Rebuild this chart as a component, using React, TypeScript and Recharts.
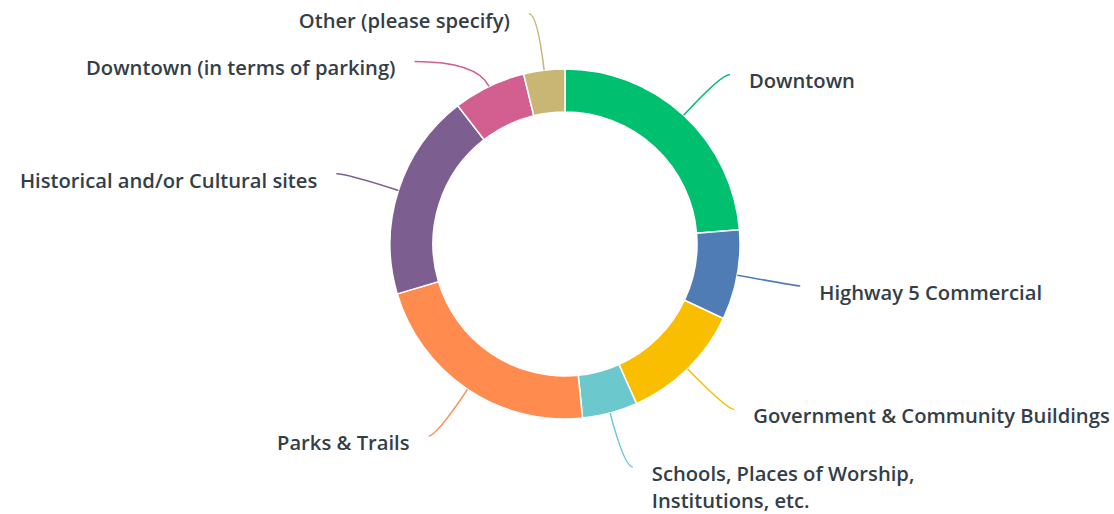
import { PieChart, Pie, Cell } from "recharts";

const categories = [
  "Downtown",
  "Highway 5 Commercial",
  "Government & Community Buildings",
  "Schools, Places of Worship, Institutions, etc.",
  "Parks & Trails",
  "Historical and/or Cultural sites",
  "Downtown (in terms of parking)",
  "Other (please specify)",
];
const shares = [23.7, 8.3, 11.3, 5.1, 22.0, 19.1, 6.7, 3.8];
const colors = [
  "#00bf6f",
  "#507cb6",
  "#f9be00",
  "#6bc8cd",
  "#ff8b4f",
  "#7d5e90",
  "#d25f90",
  "#c9b675",
];
const labelLines = [
  ["Downtown"],
  ["Highway 5 Commercial"],
  ["Government & Community Buildings"],
  ["Schools, Places of Worship,", "Institutions, etc."],
  ["Parks & Trails"],
  ["Historical and/or Cultural sites"],
  ["Downtown (in terms of parking)"],
  ["Other (please specify)"],
];

// leader-line end nudges, px
const nudges = [
  [5, 4],
  [3, 0],
  [4, -3],
  [7, -5],
  [-5, -4],
  [-4, 2],
  [-48, 30],
  [-8, 4],
];

const data = categories.map((name, i) => ({ name, value: shares[i] }));

const RADIAN = Math.PI / 180;

function renderLabel(props: any) {
  const { cx, cy, midAngle, outerRadius, index } = props;
  const cos = Math.cos(-midAngle * RADIAN);
  const sin = Math.sin(-midAngle * RADIAN);
  const sx = cx + outerRadius * cos;
  const sy = cy + outerRadius * sin;
  const [nx, ny] = nudges[index];
  const ex = cx + (outerRadius + 61) * cos + nx;
  const ey = cy + (outerRadius + 61) * sin + ny;
  let t = Math.abs(sin) > 0.01 ? (ey - cy) / sin : outerRadius + 40;
  if (t < outerRadius + 5) t = outerRadius + 5;
  const qx = cx + t * cos;
  const right = ex > cx;
  const lines = labelLines[index];
  const tx = right ? ex + 19 : ex - 19;
  return (
    <g>
      <path
        d={`M${sx},${sy} Q${qx},${ey} ${ex},${ey}`}
        stroke={colors[index]}
        strokeWidth={1.5}
        fill="none"
      />
      <text
        x={tx}
        y={ey + 6}
        textAnchor={right ? "start" : "end"}
        dominantBaseline="central"
        fill="#333e48"
        fontSize={20.2}
        fontWeight={600}
        fontFamily="'Open Sans', sans-serif"
      >
        {lines.map((l, k) => (
          <tspan key={k} x={tx} dy={k === 0 ? 0 : 27}>
            {l}
          </tspan>
        ))}
      </text>
    </g>
  );
}

export default function App() {
  return (
    <div style={{ position: "absolute", left: 0, top: 0, background: "#fff" }}>
      <PieChart
        width={1114}
        height={514}
        margin={{ top: 0, right: 0, bottom: 0, left: 0 }}
      >
        <Pie
          data={data}
          dataKey="value"
          nameKey="name"
          cx={565}
          cy={244}
          innerRadius={132}
          outerRadius={175}
          startAngle={90}
          endAngle={-270}
          stroke="#ffffff"
          strokeWidth={1.5}
          label={renderLabel}
          labelLine={false}
          isAnimationActive={false}
        >
          {data.map((d, i) => (
            <Cell key={d.name} fill={colors[i]} />
          ))}
        </Pie>
      </PieChart>
    </div>
  );
}
